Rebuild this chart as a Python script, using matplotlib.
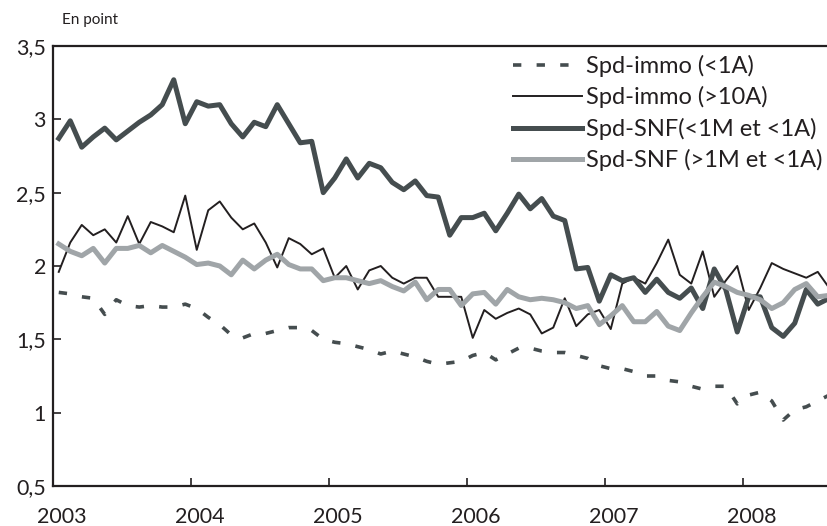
import matplotlib
matplotlib.use("Agg")
import matplotlib.pyplot as plt
import matplotlib.transforms as mtransforms
import numpy as np

plt.rcParams['font.family'] = ['Lato', 'DejaVu Sans']
plt.rcParams['lines.scale_dashes'] = False

# monthly, jan 2003 -> aug 2008
immo_court = [1.82, 1.81, 1.79, 1.78, 1.67, 1.77, 1.73, 1.72, 1.73, 1.72, 1.72, 1.74,
              1.71, 1.65, 1.60, 1.53, 1.51, 1.54, 1.54, 1.56, 1.58, 1.58, 1.56, 1.50,
              1.48, 1.47, 1.45, 1.43, 1.40, 1.42, 1.40, 1.38, 1.35, 1.33, 1.34, 1.35,
              1.39, 1.41, 1.36, 1.40, 1.44, 1.44, 1.42, 1.41, 1.41, 1.39, 1.37, 1.32,
              1.30, 1.30, 1.28, 1.25, 1.25, 1.22, 1.21, 1.18, 1.16, 1.18, 1.18, 1.06,
              1.12, 1.14, 1.08, 0.95, 1.02, 1.04, 1.08, 1.12]
immo_long = [1.96, 2.16, 2.28, 2.21, 2.25, 2.16, 2.34, 2.15, 2.30, 2.27, 2.23, 2.48,
             2.11, 2.38, 2.44, 2.33, 2.25, 2.29, 2.16, 1.99, 2.19, 2.15, 2.08, 2.12,
             1.92, 2.00, 1.84, 1.97, 2.00, 1.92, 1.88, 1.92, 1.92, 1.79, 1.79, 1.79,
             1.51, 1.70, 1.64, 1.68, 1.71, 1.67, 1.54, 1.58, 1.78, 1.59, 1.67, 1.70,
             1.57, 1.88, 1.92, 1.88, 2.02, 2.18, 1.94, 1.88, 2.10, 1.79, 1.90, 2.00,
             1.70, 1.85, 2.02, 1.98, 1.95, 1.92, 1.96, 1.85]
snf_petit = [2.87, 2.99, 2.81, 2.88, 2.94, 2.86, 2.92, 2.98, 3.03, 3.10, 3.27, 2.97,
             3.12, 3.09, 3.10, 2.97, 2.88, 2.98, 2.95, 3.10, 2.97, 2.84, 2.85, 2.50,
             2.60, 2.73, 2.60, 2.70, 2.67, 2.57, 2.52, 2.58, 2.48, 2.47, 2.21, 2.33,
             2.33, 2.36, 2.24, 2.36, 2.49, 2.39, 2.46, 2.34, 2.31, 1.98, 1.99, 1.76,
             1.94, 1.90, 1.92, 1.82, 1.91, 1.82, 1.78, 1.85, 1.71, 1.98, 1.84, 1.55,
             1.79, 1.79, 1.58, 1.52, 1.61, 1.84, 1.74, 1.78]
snf_grand = [2.15, 2.10, 2.07, 2.12, 2.02, 2.12, 2.12, 2.14, 2.09, 2.14, 2.10, 2.06,
             2.01, 2.02, 2.00, 1.94, 2.04, 1.98, 2.04, 2.08, 2.01, 1.98, 1.98, 1.90,
             1.92, 1.92, 1.90, 1.88, 1.90, 1.86, 1.83, 1.89, 1.77, 1.84, 1.84, 1.73,
             1.81, 1.82, 1.74, 1.84, 1.79, 1.77, 1.78, 1.77, 1.75, 1.71, 1.73, 1.60,
             1.66, 1.73, 1.62, 1.62, 1.69, 1.59, 1.56, 1.68, 1.79, 1.89, 1.86, 1.82,
             1.80, 1.77, 1.71, 1.75, 1.84, 1.88, 1.79, 1.80]
labels = ['Spd-immo (<1A)', 'Spd-immo (>10A)', 'Spd-SNF(<1M et <1A)', 'Spd-SNF (>1M et <1A)']
years = [2003, 2004, 2005, 2006, 2007, 2008]
yticks = [0.5, 1, 1.5, 2, 2.5, 3, 3.5]

x = 2003 + (np.arange(len(immo_court)) + 0.5) / 12

fig = plt.figure(figsize=(8.27, 5.26), dpi=100)
ax = fig.add_axes([53/827, 1 - 486/526, 1 - 53/827, (486 - 46)/526])

black = '#231f20'
ax.plot(x, immo_court, color='#454d4f', lw=2.6, dashes=(6, 11), solid_capstyle='butt')
ax.plot(x, immo_long, color=black, lw=1.4)
ax.plot(x, snf_petit, color='#454d4f', lw=3.6)
ax.plot(x, snf_grand, color='#a0a5a8', lw=3.6)

ax.set_xlim(2003, 2003 + 774/138)
ax.set_ylim(0.5, 3.5)
ax.set_xticks(years)
ax.set_xticklabels([str(y) for y in years])
ax.set_yticks(yticks)
ax.set_yticklabels([('%g' % v).replace('.', ',') for v in yticks])
ax.tick_params(direction='in', length=6, width=1.2, color=black, labelcolor=black,
               labelsize=15.5)
ax.tick_params(axis='x', pad=15)
ax.tick_params(axis='y', pad=5)
off = mtransforms.ScaledTranslation(9/100, 0, fig.dpi_scale_trans)
for lab in ax.get_xticklabels():
    lab.set_transform(lab.get_transform() + off)

for s in ['left', 'bottom', 'top']:
    ax.spines[s].set_linewidth(1.6)
    ax.spines[s].set_color(black)
ax.spines['right'].set_visible(False)

leg = ax.legend(labels, loc='upper right', bbox_to_anchor=(1.0, 1 - 4/440), frameon=False,
                fontsize=17, handlelength=2.9, handletextpad=0.17, labelspacing=0.4,
                borderaxespad=0.0, borderpad=0.2)
for t in leg.get_texts():
    t.set_color(black)

fig.text(62/827, 1 - 20/526, 'En point', fontsize=11, color=black, va='center')

fig.savefig('out.png', dpi=100)
